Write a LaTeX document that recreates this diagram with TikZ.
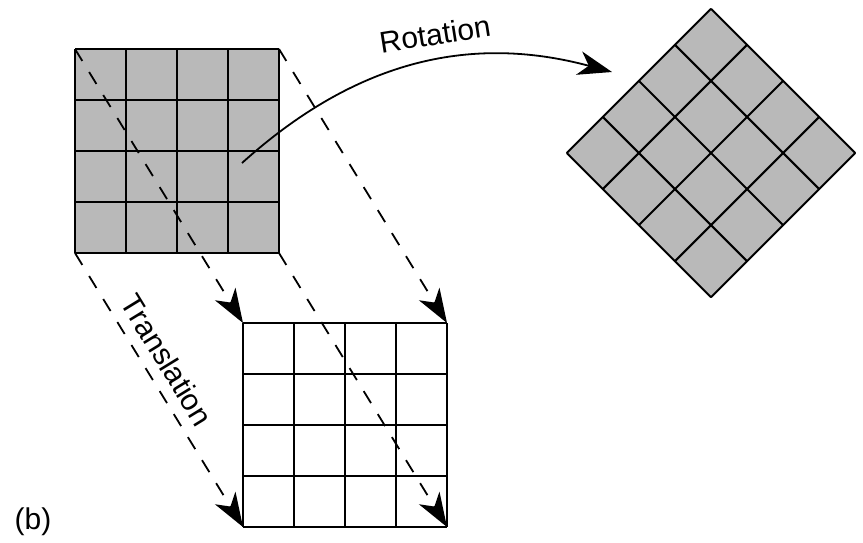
\documentclass[tikz,border=0pt]{standalone}
\usepackage{fontspec}
\setmainfont{Liberation Sans}
\usetikzlibrary{arrows.meta}
\begin{document}
\begin{tikzpicture}[x=1pt,y=1pt,
  gridline/.style={line width=2pt,black},
  movedash/.style={line width=1.8pt,dash pattern=on 14pt off 13pt,
    -{Stealth[length=34pt,width=24pt,inset=10pt]}},
  rotarrow/.style={line width=1.8pt,-{Stealth[length=34pt,width=24pt,inset=10pt]}},
  lab/.style={font=\fontsize{30}{36}\selectfont, inner sep=0pt}]
\useasboundingbox (0,0) rectangle (863,-542);
% corners
\coordinate (gTL) at (75,-49);
\coordinate (gTR) at (279,-49);
\coordinate (gBL) at (75,-253);
\coordinate (gBR) at (279,-253);
\coordinate (wTL) at (243,-323);
\coordinate (wTR) at (447,-323);
\coordinate (wBL) at (243,-527);
\coordinate (wBR) at (447,-527);
% gray square
\fill[gray!55] (gTL) rectangle (gBR);
\foreach \i in {0,...,4} {
  \draw[gridline] ({75+51*\i},-49) -- ({75+51*\i},-253);
  \draw[gridline] (75,{-49-51*\i}) -- (279,{-49-51*\i});
}
% white square
\foreach \i in {0,...,4} {
  \draw[gridline] ({243+51*\i},-323) -- ({243+51*\i},-527);
  \draw[gridline] (243,{-323-51*\i}) -- (447,{-323-51*\i});
}
% translation lines
\draw[movedash] (gTL) -- (wTL);
\draw[movedash] (gTR) -- (wTR);
\draw[movedash] (gBL) -- (wBL);
\draw[movedash] (gBR) -- (wBR);
% rotated square
\begin{scope}[shift={(711,-153)},rotate=45]
  \fill[gray!55] (-102,-102) rectangle (102,102);
  \foreach \i in {0,...,4} {
    \draw[gridline] ({-102+51*\i},-102) -- ({-102+51*\i},102);
    \draw[gridline] (-102,{-102+51*\i}) -- (102,{-102+51*\i});
  }
\end{scope}
% rotation arrow
\coordinate (rs) at (242,-163);
\coordinate (rt) at (612,-72);
\draw[rotarrow] (rs) .. controls (353,-63) and (467,-33) .. (rt);
% labels
\node[lab,rotate=9] (rot) at (435,-34) {Rotation};
\node[lab,rotate=-58.5] (tra) at (167,-360) {Translation};
\node[lab] (b) at (33,-522) {(b)};
\end{tikzpicture}
\end{document}
